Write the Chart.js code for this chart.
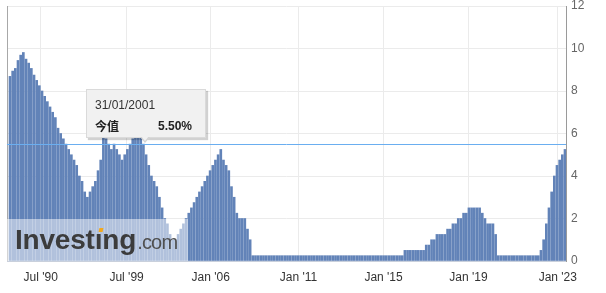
<!DOCTYPE html>
<html>
<head>
<meta charset="utf-8">
<script src="https://cdn.jsdelivr.net/npm/chart.js@4.4.1/dist/chart.umd.min.js"></script>
<style>
html,body{margin:0;padding:0;background:#fff;overflow:hidden;}
#wrap{position:relative;width:606px;height:293px;}
canvas{display:block;}
#wm{position:absolute;background:rgba(255,255,255,0.5);overflow:hidden;pointer-events:none;}
#wm .txt{position:absolute;left:8px;top:5px;white-space:nowrap;line-height:32px;}
#wm .b{font:bold 28px "Liberation Sans",Arial,sans-serif;color:#3c3c3c;letter-spacing:-0.2px;}
#wm .c{font:normal 20px "Liberation Sans",Arial,sans-serif;color:#505050;letter-spacing:-0.8px;margin-left:1px;}
#wm .dot{position:absolute;left:92px;top:9px;width:4px;height:4px;background:#f3a81d;transform:skewX(-12deg);}
#tip{position:absolute;width:120px;height:49px;box-sizing:border-box;background:#f1f1f1;border:1px solid #dadada;box-shadow:2px 2px 1px rgba(0,0,0,0.18);font-family:"Liberation Sans",Arial,sans-serif;}
#tip .d{position:absolute;left:8px;top:8px;font-size:12px;line-height:14px;color:#333;}
#tip .l{position:absolute;left:8px;top:29px;font:bold 12px "Noto Sans CJK SC","Liberation Sans",sans-serif;line-height:14px;color:#222;}
#tip .v{position:absolute;right:13px;top:29px;font:bold 12px "Liberation Sans",Arial,sans-serif;line-height:14px;color:#222;}
#tip .arr{position:absolute;left:53px;bottom:-6px;width:0;height:0;border-left:5px solid transparent;border-right:5px solid transparent;border-top:6px solid #d4d4d4;}
#tip .arr2{position:absolute;left:54px;bottom:-4px;width:0;height:0;border-left:4px solid transparent;border-right:4px solid transparent;border-top:5px solid #f1f1f1;}
</style>
</head>
<body>
<div id="wrap">
<canvas id="c" width="606" height="293"></canvas>
<div id="wm"><div class="txt"><span class="b">Investıng</span><span class="c">.com</span></div><div class="dot"></div></div>
<div id="tip"><div class="d"></div><div class="l"></div><div class="v"></div><div class="arr"></div><div class="arr2"></div></div>
</div>
<script>
// Fed funds target rate, one value per bar (decision)
const rates = [
  8.6875, 8.9375, 9.0625, 9.4375, 9.6875, 9.8125, 9.5, 9.3125, 9.0625, 8.75,
  8.5, 8.25, 8.0, 7.75, 7.5, 7.25, 7.0, 6.75, 6.25, 6.0,
  5.75, 5.5, 5.25, 5.0, 4.75, 4.5, 4.0, 3.75, 3.25, 3.0,
  3.25, 3.5, 3.75, 4.25, 4.75, 6.0, 5.75, 5.5, 5.25, 5.5,
  5.25, 5.0, 4.75, 5.0, 5.25, 5.5, 5.75, 6.0, 6.5, 6.0,
  5.5, 5.0, 4.5, 4.0, 3.75, 3.5, 3.0, 2.5, 2.0, 1.75,
  1.25, 1.0, 1.0, 1.25, 1.5, 1.75, 2.0, 2.25, 2.5, 2.75,
  3.0, 3.25, 3.5, 3.75, 4.0, 4.25, 4.5, 4.75, 5.0, 5.25,
  4.75, 4.5, 4.25, 3.5, 3.0, 2.25, 2.0, 2.0, 2.0, 1.5,
  1.0, 0.25,
  0.25, 0.25, 0.25, 0.25, 0.25, 0.25, 0.25, 0.25,
  0.25, 0.25, 0.25, 0.25, 0.25, 0.25, 0.25, 0.25,
  0.25, 0.25, 0.25, 0.25, 0.25, 0.25, 0.25, 0.25,
  0.25, 0.25, 0.25, 0.25, 0.25, 0.25, 0.25, 0.25,
  0.25, 0.25, 0.25, 0.25, 0.25, 0.25, 0.25, 0.25,
  0.25, 0.25, 0.25, 0.25, 0.25, 0.25, 0.25, 0.25,
  0.25, 0.25, 0.25, 0.25, 0.25, 0.25, 0.25, 0.25,
  0.5, 0.5, 0.5, 0.5, 0.5, 0.5, 0.5, 0.5,
  0.75, 0.75, 1.0, 1.0, 1.25, 1.25, 1.25, 1.25,
  1.5, 1.5, 1.75, 1.75, 2.0, 2.0, 2.25, 2.25,
  2.5, 2.5, 2.5, 2.5, 2.5, 2.25, 2.0, 1.75,
  1.75, 1.75, 1.25,
  0.25, 0.25, 0.25, 0.25, 0.25, 0.25, 0.25, 0.25,
  0.25, 0.25, 0.25, 0.25, 0.25, 0.25, 0.25, 0.25,
  0.5, 1.0, 1.75, 2.5, 3.25, 4.0, 4.5, 4.75, 5.0, 5.25
];
const barIndex = rates.map((_, i) => i);
const tickLabels = ["Jul '90", "Jul '99", "Jan '06", "Jan '11", "Jan '15", "Jan '19", "Jan '23"];
const tickPositions = [11.5, 43.7, 75.2, 108.1, 140.0, 171.8, 205.3];
const yTicks = [0, 2, 4, 6, 8, 10, 12];
const tipIndex = 50;
const tipDate = '31/01/2001';
const tipLabel = '今值';

Chart.defaults.font.family = '"Liberation Sans", Arial, sans-serif';
Chart.defaults.font.size = 12;

function noPad(scale) {
  scale.paddingLeft = 0; scale.paddingRight = 0;
  scale.paddingTop = 0; scale.paddingBottom = 0;
}

const overlay = {
  id: 'overlay',
  afterDatasetsDraw(chart) {
    const {ctx, chartArea: a, scales: {x, y}} = chart;
    ctx.save();
    ctx.lineWidth = 1;
    ctx.strokeStyle = '#a8a8a8';
    ctx.beginPath();
    ctx.moveTo(a.left + 0.5, a.top);
    ctx.lineTo(a.left + 0.5, a.bottom);
    ctx.stroke();
    const yy = Math.round(y.getPixelForValue(rates[tipIndex])) + 0.5;
    ctx.strokeStyle = '#6aaef0';
    ctx.beginPath();
    ctx.moveTo(a.left, yy);
    ctx.lineTo(a.right, yy);
    ctx.stroke();
    ctx.restore();
  },
  afterRender(chart) {
    const {chartArea: a, scales: {x, y}} = chart;
    const wm = document.getElementById('wm');
    wm.style.left = a.left + 'px';
    wm.style.top = (a.bottom - 42) + 'px';
    wm.style.width = '181px';
    wm.style.height = '42px';
    const tip = document.getElementById('tip');
    const px = x.getPixelForValue(tipIndex);
    const py = y.getPixelForValue(rates[tipIndex]);
    tip.style.left = Math.round(px - 57) + 'px';
    tip.style.top = Math.round(py - 55) + 'px';
    tip.querySelector('.d').textContent = tipDate;
    tip.querySelector('.l').textContent = tipLabel;
    tip.querySelector('.v').textContent = rates[tipIndex].toFixed(2) + '%';
  }
};

new Chart(document.getElementById('c'), {
  type: 'bar',
  data: {
    datasets: [{
      data: barIndex.map((i) => ({x: i, y: rates[i]})),
      backgroundColor: '#6283b8',
      borderWidth: 0,
      barThickness: 2
    }]
  },
  options: {
    responsive: false,
    devicePixelRatio: 1,
    animation: false,
    events: [],
    layout: {padding: {left: 7, top: 6, right: 0, bottom: 0}},
    plugins: {legend: {display: false}, tooltip: {enabled: false}},
    scales: {
      x: {
        type: 'linear',
        min: -1.124,
        max: 208.375,
        offset: false,
        grid: {color: '#ebebeb', drawTicks: false, offset: false},
        border: {display: true, color: '#c9d0dc'},
        afterBuildTicks(scale) { scale.ticks = tickPositions.map(v => ({value: v})); },
        afterFit(scale) { scale.height = 32; noPad(scale); },
        ticks: {
          autoSkip: false, maxRotation: 0, padding: 9, color: '#333',
          callback: (v, i) => tickLabels[i]
        }
      },
      y: {
        position: 'right',
        min: 0,
        max: 12,
        grid: {color: '#ebebeb', drawTicks: false},
        border: {display: true, color: '#9a9a9a'},
        afterBuildTicks(scale) { scale.ticks = yTicks.map(v => ({value: v})); },
        afterFit(scale) { scale.width = 40; noPad(scale); },
        ticks: {padding: 5, color: '#666', font: {lineHeight: 1}}
      }
    }
  },
  plugins: [overlay]
});
</script>
</body>
</html>
